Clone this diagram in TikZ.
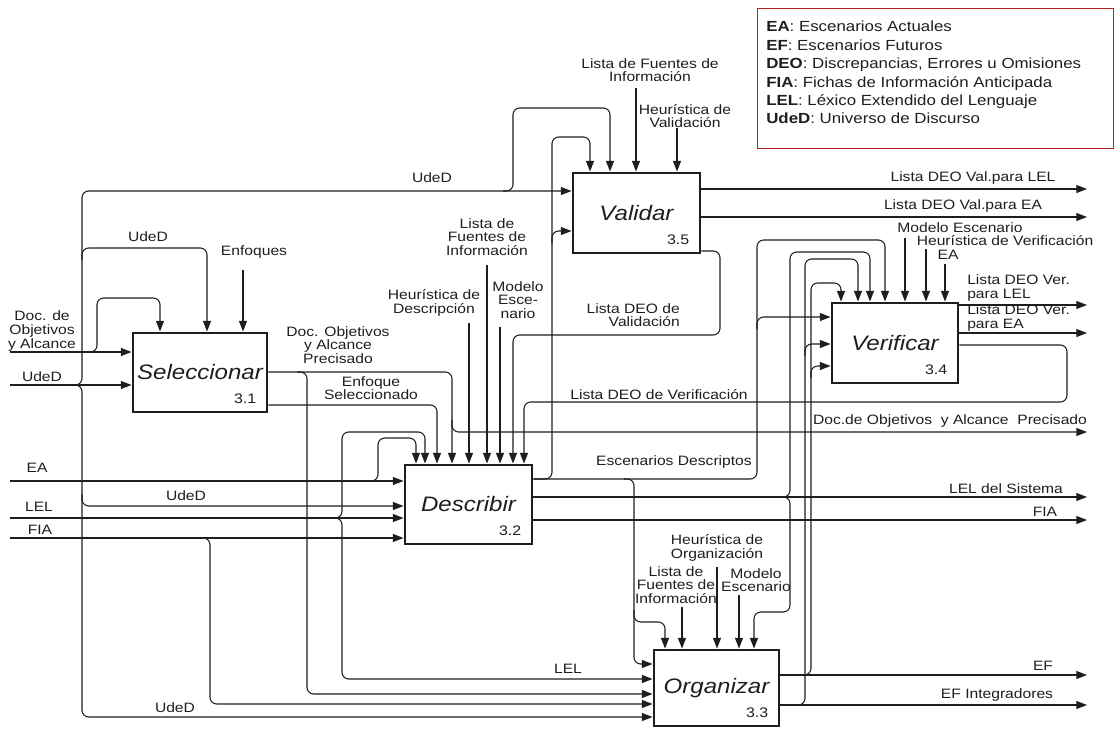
\documentclass[tikz,border=0pt]{standalone}
\usepackage{fontspec}
\setmainfont{Liberation Sans}[FakeStretch=1.15]
\usetikzlibrary{arrows.meta, positioning}
\definecolor{legred}{RGB}{185, 35, 35}
\definecolor{ink}{RGB}{30, 30, 30}

\begin{document}
\begin{tikzpicture}[x=0.75pt, y=-0.75pt, color=ink,
  box/.style={draw, line width=2.2pt, minimum width=95.25pt, minimum height=59.25pt, inner sep=0pt, font=\fontsize{15.7}{18}\selectfont\itshape},
  num/.style={anchor=base east, inner sep=0pt, font=\fontsize{10.4}{12}\selectfont},
  lbl/.style={align=center, inner sep=0pt, font=\fontsize{10.2}{10.2}\selectfont},
  flow/.style={draw, line width=0.8pt, rounded corners=5pt, -{Triangle[length=8pt, width=6pt]}},
  legbox/.style={draw=legred, line width=1pt, minimum width=267pt, minimum height=105pt, inner sep=0pt}
]
  \useasboundingbox (0,0) rectangle (1115,729);

  % Activities
  \node[box, minimum width=100.5pt] (sel) at (200,372.5) {Seleccionar};
  \node[box, minimum height=60pt] (val) at (636.5,213) {Validar};
  \node[box] (des) at (468.5,504.5) {Describir};
  \node[box, minimum width=94.5pt, minimum height=60pt] (ver) at (895,343) {Verificar};
  \node[box, minimum width=93.75pt, minimum height=57pt] (org) at (716.5,688) {Organizar};
  \node[num] at ([xshift=-9pt, yshift=7.5pt]sel.south east) {3.1};
  \node[num] at ([xshift=-9pt, yshift=7.5pt]val.south east) {3.5};
  \node[num] at ([xshift=-9pt, yshift=7.5pt]des.south east) {3.2};
  \node[num] at ([xshift=-9pt, yshift=7.5pt]ver.south east) {3.4};
  \node[num] at ([xshift=-9pt, yshift=7.5pt]org.south east) {3.3};

  % Legend
  \node[legbox, anchor=north west] (leg) at (757,8) {};
  \node[anchor=north west, align=left, inner sep=0pt, font=\fontsize{11}{13.8}\selectfont] (legtxt) at (766,21) {
    \textbf{EA}: Escenarios Actuales\\
    \textbf{EF}: Escenarios Futuros\\
    \textbf{DEO}: Discrepancias, Errores u Omisiones\\
    \textbf{FIA}: Fichas de Información Anticipada\\
    \textbf{LEL}: Léxico Extendido del Lenguaje\\
    \textbf{UdeD}: Universo de Discurso
  };

  % Free ends
  \coordinate (iDoc) at (10,352);
  \coordinate (iUdeD) at (10,385);
  \coordinate (iEA) at (10,481);
  \coordinate (iLEL) at (10,518);
  \coordinate (iFIA) at (10,538);
  \coordinate (cEnf) at (243,270);
  \coordinate (cHeD) at (469,323);
  \coordinate (cLfD) at (487,265);
  \coordinate (cMoD) at (500,327);
  \coordinate (cLfV) at (636,88);
  \coordinate (cHeV) at (677,128);
  \coordinate (cMoV) at (905,238);
  \coordinate (cHeVer) at (926,249);
  \coordinate (cEAv) at (945,264);
  \coordinate (cLfO) at (682,607);
  \coordinate (cHeO) at (717,567);
  \coordinate (cMoO) at (739,595);
  \coordinate (oValLEL) at (1087,189);
  \coordinate (oValEA) at (1087,217);
  \coordinate (oVerLEL) at (1087,305);
  \coordinate (oVerEA) at (1087,333);
  \coordinate (oDoc) at (1087,432);
  \coordinate (oLEL) at (1087,497);
  \coordinate (oFIA) at (1087,520);
  \coordinate (oEF) at (1087,675);
  \coordinate (oEFI) at (1087,705);

  % Seleccionar
  \draw[flow] (iDoc) -- (sel.west |- iDoc);
  \draw[flow] (88,352) -- (97,352) -- (97,298) -- (160,298) -- (sel.north -| 160,0);
  \draw[flow] (iUdeD) -- (sel.west |- iUdeD);
  \draw[flow] (72,385) -- (82,385) -- (82,191) -- (val.west |- 0,191);
  \draw[flow] (72,385) -- (82,385) -- (82,717) -- (org.west |- 0,717);
  \draw[flow] (82,260) -- (82,248) -- (207,248) -- (sel.north -| 207,0);
  \draw[flow] (82,494) -- (82,506) -- (des.west |- 0,506);
  \draw[flow] (cEnf) -- (sel.north -| cEnf);
  \draw[flow] (sel.east |- 0,372) -- (452,372) -- (des.north -| 452,0);
  \draw[flow] (297,372) -- (307,372) -- (307,694) -- (org.west |- 0,694);
  \draw[flow] (452,420) -- (452,432) -- (oDoc);
  \draw[flow] (sel.east |- 0,405) -- (437,405) -- (des.north -| 437,0);

  % Describir
  \draw[flow] (iEA) -- (des.west |- iEA);
  \draw[flow] (iLEL) -- (des.west |- iLEL);
  \draw[flow] (iFIA) -- (des.west |- iFIA);
  \draw[flow] (368,481) -- (378,481) -- (378,438) -- (416,438) -- (des.north -| 416,0);
  \draw[flow] (332,518) -- (342,518) -- (342,432) -- (425,432) -- (des.north -| 425,0);
  \draw[flow] (332,518) -- (342,518) -- (342,679) -- (org.west |- 0,679);
  \draw[flow] (200,538) -- (210,538) -- (210,704) -- (org.west |- 0,704);
  \draw[flow] (cHeD) -- (des.north -| cHeD);
  \draw[flow] (cLfD) -- (des.north -| cLfD);
  \draw[flow] (cMoD) -- (des.north -| cMoD);
  \draw[flow] (des.east |- 0,479) -- (552,479) -- (552,137) -- (590,137) -- (val.north -| 590,0);
  \draw[flow] (552,243) -- (552,231) -- (val.west |- 0,231);
  \draw[flow] (des.east |- 0,479) -- (757,479) -- (757,240) -- (885,240) -- (ver.north -| 885,0);
  \draw[flow] (757,329) -- (757,317) -- (ver.west |- 0,317);
  \draw[flow] (624,479) -- (634,479) -- (634,664) -- (org.west |- 0,664);
  \draw[flow] (634,610) -- (634,622) -- (665,622) -- (org.north -| 665,0);
  \draw[flow] (des.east |- oLEL) -- (oLEL);
  \draw[flow] (780,497) -- (790,497) -- (790,252) -- (870,252) -- (ver.north -| 870,0);
  \draw[flow] (780,497) -- (790,497) -- (790,612) -- (754,612) -- (org.north -| 754,0);
  \draw[flow] (des.east |- oFIA) -- (oFIA);

  % Validar
  \draw[flow] (503,191) -- (513,191) -- (513,108) -- (610,108) -- (val.north -| 610,0);
  \draw[flow] (cLfV) -- (val.north -| cLfV);
  \draw[flow] (cHeV) -- (val.north -| cHeV);
  \draw[flow] (val.east |- oValLEL) -- (oValLEL);
  \draw[flow] (val.east |- oValEA) -- (oValEA);
  \draw[flow] (val.east |- 0,251) -- (720,251) -- (720,335) -- (513,335) -- (des.north -| 513,0);

  % Verificar
  \draw[flow] (cMoV) -- (ver.north -| cMoV);
  \draw[flow] (cHeVer) -- (ver.north -| cHeVer);
  \draw[flow] (cEAv) -- (ver.north -| cEAv);
  \draw[flow] (ver.east |- oVerLEL) -- (oVerLEL);
  \draw[flow] (ver.east |- oVerEA) -- (oVerEA);
  \draw[flow] (ver.east |- 0,345) -- (1067,345) -- (1067,402) -- (524,402) -- (des.north -| 524,0);

  % Organizar
  \draw[flow] (cLfO) -- (org.north -| cLfO);
  \draw[flow] (cHeO) -- (org.north -| cHeO);
  \draw[flow] (cMoO) -- (org.north -| cMoO);
  \draw[flow] (org.east |- oEF) -- (oEF);
  \draw[flow] (org.east |- oEFI) -- (oEFI);
  \draw[flow] (801,675) -- (811,675) -- (811,283) -- (841,283) -- (ver.north -| 841,0);
  \draw[flow] (811,378) -- (811,366) -- (ver.west |- 0,366);
  \draw[flow] (795,705) -- (805,705) -- (805,259) -- (858,259) -- (ver.north -| 858,0);
  \draw[flow] (805,356) -- (805,344) -- (ver.west |- 0,344);

  % Labels
  \node[lbl] (tDoc) at (42,331) {Doc. de\\Objetivos\\y Alcance};
  \node[lbl] (tUdeD1) at (42,377) {UdeD};
  \node[lbl] (tUdeD2) at (148,237) {UdeD};
  \node[lbl] (tEnf) at (254,252) {Enfoques};
  \node[lbl] (tUdeD3) at (432,178) {UdeD};
  \node[lbl] (tLfV) at (650,70) {Lista de Fuentes de\\Información};
  \node[lbl] (tHeV) at (685,116) {Heurística de\\Validación};
  \node[lbl] (tLfD) at (487,237) {Lista de\\Fuentes de\\Información};
  \node[lbl] (tHeD) at (434,303) {Heurística de\\Descripción};
  \node[lbl] (tMoD) at (518,300) {Modelo\\Esce-\\nario};
  \node[lbl] (tDocP) at (338,345) {Doc. Objetivos\\y Alcance\\Precisado};
  \node[lbl] (tEnfS) at (371,388) {Enfoque\\Seleccionado};
  \node[lbl, anchor=east, align=right] (tDeoVal) at (680,315) {Lista DEO de\\Validación};
  \node[lbl] (tDeoVer) at (659,395) {Lista DEO de Verificación};
  \node[lbl] (tEsc) at (674,462) {Escenarios Descriptos};
  \node[lbl] (tHeO) at (717,548) {Heurística de\\Organización};
  \node[lbl] (tLfO) at (676,585) {Lista de\\Fuentes de\\Información};
  \node[lbl] (tMoO) at (756,580) {Modelo\\Escenario};
  \node[lbl] (tLEL) at (568,669) {LEL};
  \node[lbl] (tUdeD4) at (186,496) {UdeD};
  \node[lbl] (tUdeD5) at (175,708) {UdeD};
  \node[lbl] (tEA) at (37,468) {EA};
  \node[lbl] (tLELi) at (39,507) {LEL};
  \node[lbl] (tFIAi) at (40,530) {FIA};
  \node[lbl] (tMoV) at (960,228) {Modelo Escenario};
  \node[lbl] (tHeVer) at (1005,241) {Heurística de Verificación};
  \node[lbl] (tEAv) at (948,255) {EA};
  \node[lbl, anchor=west, align=left] (tVerLEL) at (967,288) {Lista DEO Ver.\\para LEL};
  \node[lbl, anchor=west, align=left] (tVerEA) at (967,318) {Lista DEO Ver.\\para EA};
  \node[lbl] (tValLEL) at (973,178) {Lista DEO Val.para LEL};
  \node[lbl] (tValEA) at (963,206) {Lista DEO Val.para EA};
  \node[lbl] (tDocOut) at (950,421) {Doc.de Objetivos~ y Alcance~ Precisado};
  \node[lbl] (tLELs) at (1006,489) {LEL del Sistema};
  \node[lbl] (tFIAo) at (1045,512) {FIA};
  \node[lbl] (tEF) at (1043,666) {EF};
  \node[lbl] (tEFI) at (997,695) {EF Integradores};
\end{tikzpicture}
\end{document}
